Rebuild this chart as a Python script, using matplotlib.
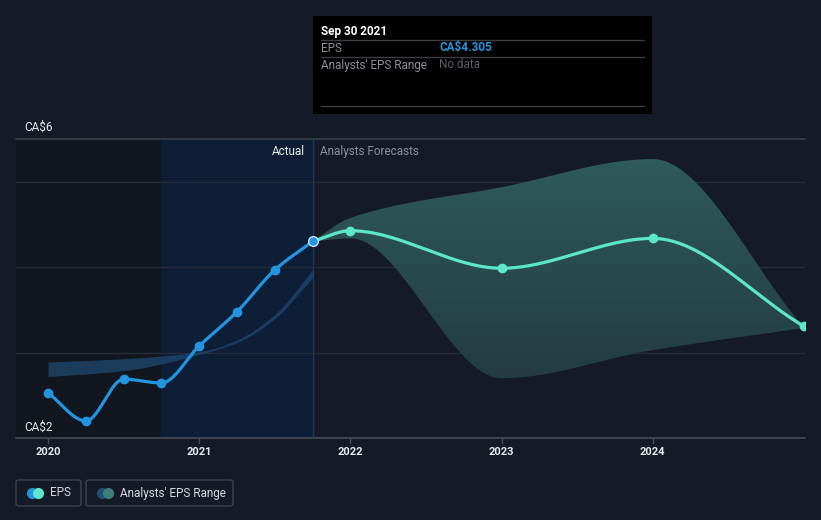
import numpy as np
import matplotlib
matplotlib.use("Agg")
import matplotlib.pyplot as plt
from matplotlib.patches import FancyBboxPatch, Rectangle

plt.rcParams['font.family'] = ['Roboto', 'DejaVu Sans']

# ---------------- data ----------------
eps_actual_x = [2020.0, 2020.25, 2020.5, 2020.75, 2021.0, 2021.25, 2021.5, 2021.75]
eps_actual_y = [2.53, 2.20, 2.69, 2.645, 3.08, 3.48, 3.97, 4.305]

eps_fc_x = [2021.75, 2022.0, 2023.0, 2024.0, 2025.0]
eps_fc_y = [4.305, 4.43, 3.99, 4.34, 3.31]

range_fc_x = [2021.75, 2022.0, 2023.0, 2024.0, 2025.0]
range_fc_low = [4.305, 4.34, 2.70, 3.03, 3.29]
range_fc_high = [4.305, 4.58, 4.94, 5.27, 3.30]

range_past_x = [2020.0, 2020.5, 2021.0, 2021.25, 2021.5, 2021.75]
range_past_low = [2.72, 2.79, 2.98, 3.12, 3.40, 3.88]
range_past_high = [2.89, 2.93, 3.01, 3.15, 3.45, 3.97]

year_ticks = [2020, 2021, 2022, 2023, 2024]
y_labels = ["CA$2", "CA$6"]

tooltip_date = "Sep 30 2021"
tooltip_eps = "CA$4.305"

# ---------------- helpers ----------------
def monotone(x, y, n=200):
    x = np.asarray(x, float); y = np.asarray(y, float)
    h = np.diff(x); d = np.diff(y) / h
    m = np.zeros_like(y)
    m[0] = d[0]; m[-1] = d[-1]
    for i in range(1, len(y) - 1):
        if d[i - 1] * d[i] <= 0:
            m[i] = 0
        else:
            m[i] = (3 * (h[i - 1] + h[i])) / ((2 * h[i] + h[i - 1]) / d[i - 1] + (h[i] + 2 * h[i - 1]) / d[i])
    xs, ys = [], []
    for i in range(len(h)):
        t = np.linspace(0, 1, n)
        h00 = 2 * t**3 - 3 * t**2 + 1
        h10 = t**3 - 2 * t**2 + t
        h01 = -2 * t**3 + 3 * t**2
        h11 = t**3 - t**2
        xs.append(x[i] + t * h[i])
        ys.append(h00 * y[i] + h10 * h[i] * m[i] + h01 * y[i + 1] + h11 * h[i] * m[i + 1])
    return np.concatenate(xs), np.concatenate(ys)

# ---------------- figure ----------------
W, H = 821, 520
fig = plt.figure(figsize=(W / 100, H / 100), dpi=100)
bg = '#151b26'
fig.patch.set_facecolor(bg)

x0, x1 = 16, 805
ytop, ybot = 139, 438
ax = fig.add_axes([x0 / W, 1 - ybot / H, (x1 - x0) / W, (ybot - ytop) / H])
ax.set_facecolor(bg)
xmin, xmax = 2019.788, 2025.007
ymin, ymax = 2.0, 5.505
ax.set_xlim(xmin, xmax)
ax.set_ylim(ymin, ymax)
for s in ax.spines.values():
    s.set_visible(False)
ax.set_xticks([]); ax.set_yticks([])

# shaded regions
ax.axvspan(xmin, 2020.75, color='#12171f', zorder=0, lw=0)
ax.axvspan(2020.75, 2021.75, color='#0d1e36', zorder=0, lw=0)

# gridlines
for gy in [3, 4, 5]:
    ax.axhline(gy, color='#262d38', lw=1, zorder=1)
ax.axhline(ymax, color='#3b414c', lw=1.2, zorder=1, clip_on=False)
ax.axhline(ymin, color='#474d57', lw=1.2, zorder=1, clip_on=False)

# past range band
px, pl = monotone(range_past_x, range_past_low)
_, ph = monotone(range_past_x, range_past_high)
ax.fill_between(px, pl, ph, color='#1f4a70', alpha=0.75, lw=0, zorder=2)

# forecast band with vertical gradient
fx, fl = monotone(range_fc_x, range_fc_low)
_, fh = monotone(range_fc_x, range_fc_high)
poly = ax.fill_between(fx, fl, fh, color='none', lw=0, zorder=2)
grad = np.linspace(0, 1, 256).reshape(-1, 1)
c_top = np.array([0x30, 0x5c, 0x5c]) / 255
c_bot = np.array([0x22, 0x3a, 0x3f]) / 255
img = c_bot[None, None, :] * (1 - grad[:, :, None]) + c_top[None, None, :] * grad[:, :, None]
im = ax.imshow(img, extent=[2021.75, xmax, 2.5, 5.4], origin='lower', aspect='auto', zorder=2)
im.set_clip_path(poly.get_paths()[0], transform=ax.transData)
ax.set_xlim(xmin, xmax); ax.set_ylim(ymin, ymax)

# divider line
ax.axvline(2021.75, color='#1e3a5c', lw=1, zorder=3)

# EPS lines
blue = '#2394df'
teal = '#5ce6cc'
ax_, ay_ = monotone(eps_actual_x, eps_actual_y)
ax.plot(ax_, ay_, color=blue, lw=2.3, zorder=5, solid_capstyle='round')
ax.plot(eps_actual_x[:-1], eps_actual_y[:-1], 'o', color=blue, ms=6, zorder=6)
fx2, fy2 = monotone(eps_fc_x, eps_fc_y)
ax.plot(fx2, fy2, color=teal, lw=2.3, zorder=5, solid_capstyle='round')
ax.plot(eps_fc_x[1:], eps_fc_y[1:], 'o', color=teal, ms=6, zorder=6)
ax.plot([eps_actual_x[-1]], [eps_actual_y[-1]], 'o', color=blue, ms=7, mec='#cfe6f7', mew=1, zorder=7)

# labels inside plot
ax.text(2021.75 - 0.05, 5.36, "Actual", color='#e8eaed', fontsize=8.5, ha='right', va='center', zorder=8)
ax.text(2021.75 + 0.05, 5.36, "Analysts Forecasts", color='#8a8f98', fontsize=8.5, ha='left', va='center', zorder=8)

# y labels
fig.text(24 / W, 1 - 127 / H, y_labels[1], color='#e8eaed', fontsize=8.5, ha='left', va='center')
fig.text(24 / W, 1 - 427 / H, y_labels[0], color='#e8eaed', fontsize=8.5, ha='left', va='center')

# x ticks
for yr in year_ticks:
    ax.plot([yr, yr], [ymin, ymin - 0.06], color='#474d57', lw=1, clip_on=False, zorder=1)
    ax.text(yr, ymin - 0.16, str(yr), color='#e8eaed', fontsize=8, ha='center', va='center',
            fontweight='bold', clip_on=False)

# tooltip
tt = Rectangle((313 / W, 1 - 114 / H), (652 - 313) / W, (114 - 16) / H, transform=fig.transFigure,
               facecolor='#000000', edgecolor='none', zorder=10)
fig.patches.append(tt)
fig.text(321 / W, 1 - 31 / H, tooltip_date, color='#ffffff', fontsize=8.5, fontweight='bold', va='center', zorder=11)
for ly in [40, 57, 106]:
    fig.add_artist(plt.Line2D([321 / W, 644 / W], [1 - ly / H, 1 - ly / H], color='#3a3d42', lw=1, zorder=11))
fig.text(321 / W, 1 - 48 / H, "EPS", color='#8a8f98', fontsize=8.5, va='center', zorder=11)
fig.text(439 / W, 1 - 48 / H, tooltip_eps, color=blue, fontsize=8.5, fontweight='bold', va='center', zorder=11)
fig.text(321 / W, 1 - 65 / H, "Analysts' EPS Range", color='#8a8f98', fontsize=8.5, va='center', zorder=11)
fig.text(439 / W, 1 - 65 / H, "No data", color='#5a5e66', fontsize=8.5, va='center', zorder=11)

# legend
def legend_box(xa, xb, label, c1, c2):
    box = FancyBboxPatch((xa / W, 1 - 506 / H), (xb - xa) / W, 26 / H, transform=fig.transFigure,
                         boxstyle="round,pad=0,rounding_size=0.004", facecolor='none',
                         edgecolor='#3e434c', lw=1)
    fig.patches.append(box)
    cy = 1 - 493 / H
    fig.add_artist(plt.Line2D([(xa + 16) / W], [cy], marker='o', ms=7, color=c1, lw=0))
    fig.add_artist(plt.Line2D([(xa + 22) / W], [cy], marker='o', ms=7, color=c2, lw=0))
    fig.text((xa + 34) / W, cy, label, color='#d8dadd', fontsize=8.5, va='center')

legend_box(16, 81, "EPS", blue, teal)
legend_box(86, 233, "Analysts' EPS Range", '#1f4f7a', '#3d7e78')

fig.savefig('out.png', dpi=100, facecolor=bg)
